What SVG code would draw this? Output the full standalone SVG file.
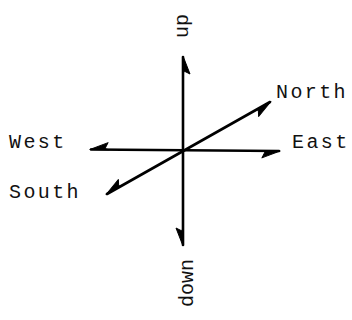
<svg xmlns="http://www.w3.org/2000/svg" width="352" height="320" viewBox="0 0 352 320">
<defs>
<marker id="half" markerUnits="userSpaceOnUse" markerWidth="30" markerHeight="30" refX="0" refY="0" viewBox="-20 -10 30 20" orient="auto-start-reverse" overflow="visible">
<path d="M1,0 L-17,7 L-14,1 L-18,0 Z" fill="#000" stroke="#000" stroke-width="1" stroke-linejoin="round"/>
</marker>
<style>
.ax{stroke:#000;stroke-width:2.6;fill:none;stroke-linecap:round;marker-start:url(#half);marker-end:url(#half)}
.lbl{font-family:"Liberation Mono","Courier New",monospace;font-size:20px;fill:#111;letter-spacing:2.4px}
.vl{font-family:"Liberation Mono","Courier New",monospace;font-size:20px;fill:#111}
</style>
</defs>
<g id="connectors">
<line class="ax" x1="183" y1="245" x2="183" y2="57"/>
<line class="ax" x1="279" y1="151" x2="91" y2="149.5"/>
<line class="ax" x1="107" y1="194" x2="270" y2="102"/>
</g>
<g id="north"><text class="lbl" x="276" y="98">North</text></g>
<g id="east"><text class="lbl" x="292" y="148">East</text></g>
<g id="west"><text class="lbl" x="9" y="148">West</text></g>
<g id="south"><text class="lbl" x="9" y="198">South</text></g>
<g id="up"><text class="vl" transform="translate(188,38) rotate(-90)">up</text></g>
<g id="down"><text class="vl" transform="translate(193,307) rotate(-90)">down</text></g>
</svg>
